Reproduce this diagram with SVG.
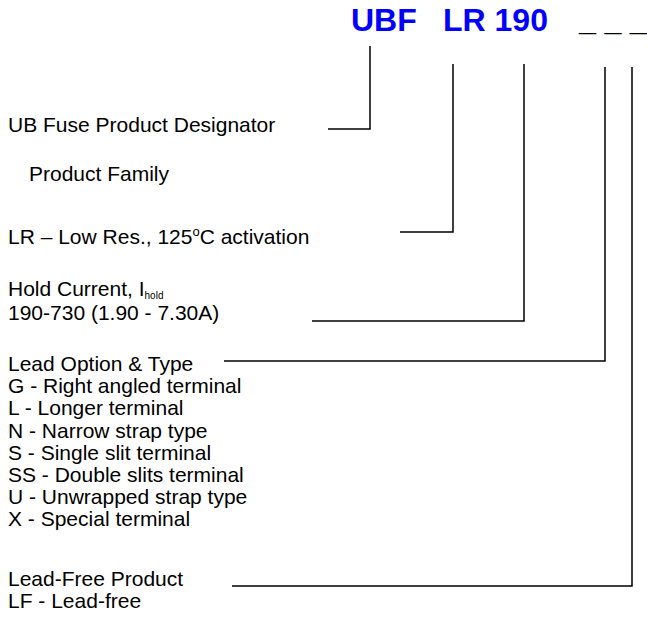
<svg xmlns="http://www.w3.org/2000/svg" width="647" height="618" viewBox="0 0 647 618">
<style>
text{font-family:"Liberation Sans",Arial,sans-serif;font-size:21px;fill:#000}
.t{font-size:32px;font-weight:bold;fill:#0000ff}
.u{font-size:30.5px;font-weight:bold;fill:#000}
.c{fill:none;stroke:#000;stroke-width:1.5}
</style>
<rect width="647" height="618" fill="#fff"/>
<g id="code">
<text class="t" x="351" y="31">UBF</text>
<text class="t" x="443" y="31">LR 190</text>
<text class="u" x="579" y="30">_ _ _</text>
</g>
<g id="connectors">
<polyline class="c" points="370,46 370,129 328,129"/>
<polyline class="c" points="453,64 453,232 400,232"/>
<polyline class="c" points="524,64 524,321 312,321"/>
<polyline class="c" points="605,67 605,361 224,361"/>
<polyline class="c" points="632,67 632,586 232,586"/>
</g>
<g id="designator"><text x="8" y="132">UB Fuse Product Designator</text></g>
<g id="family">
<text x="29" y="181">Product Family</text>
<text x="8" y="244">LR – Low Res., 125<tspan font-size="13" dy="-8">o</tspan><tspan dy="8">C activation</tspan></text>
</g>
<g id="hold">
<text x="8" y="296">Hold Current, I<tspan font-size="10" dy="3">hold</tspan></text>
<text x="8" y="320">190-730 (1.90 - 7.30A)</text>
</g>
<g id="lead">
<text x="8" y="371">Lead Option &amp; Type</text>
<text x="8" y="393.2">G - Right angled terminal</text>
<text x="8" y="415.4">L - Longer terminal</text>
<text x="8" y="437.6">N - Narrow strap type</text>
<text x="8" y="459.8">S - Single slit terminal</text>
<text x="8" y="482">SS - Double slits terminal</text>
<text x="8" y="504.2">U - Unwrapped strap type</text>
<text x="8" y="526.4">X - Special terminal</text>
</g>
<g id="leadfree">
<text x="8" y="586">Lead-Free Product</text>
<text x="8" y="608">LF - Lead-free</text>
</g>
</svg>
